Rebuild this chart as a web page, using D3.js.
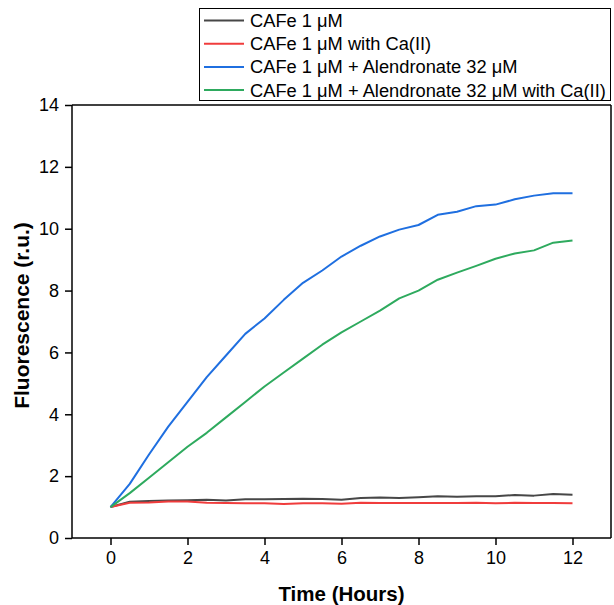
<!DOCTYPE html>
<html>
<head>
<meta charset="utf-8">
<script src="https://cdn.jsdelivr.net/npm/d3@7"></script>
<style>
  html, body { margin: 0; padding: 0; background: #fff; }
  svg { display: block; font-family: "Liberation Sans", Arial, sans-serif; }
</style>
</head>
<body>
<svg id="chart" width="614" height="605"></svg>
<script>
const hours = [0,0.5,1,1.5,2,2.5,3,3.5,4,4.5,5,5.5,6,6.5,7,7.5,8,8.5,9,9.5,10,10.5,11,11.5,12];
const cafe = [1.0,1.17,1.2,1.21,1.22,1.24,1.21,1.25,1.25,1.26,1.27,1.26,1.24,1.29,1.31,1.29,1.32,1.35,1.33,1.35,1.35,1.39,1.37,1.42,1.40];
const cafeCa = [1.0,1.14,1.15,1.18,1.18,1.14,1.13,1.12,1.12,1.10,1.12,1.12,1.11,1.14,1.13,1.13,1.13,1.13,1.13,1.14,1.12,1.14,1.13,1.13,1.12];
const cafeAlen = [1.0,1.75,2.7,3.6,4.4,5.2,5.9,6.6,7.1,7.7,8.25,8.65,9.1,9.45,9.75,9.97,10.12,10.45,10.55,10.73,10.78,10.95,11.07,11.15,11.15];
const cafeAlenCa = [1.0,1.45,1.95,2.45,2.95,3.4,3.9,4.4,4.9,5.35,5.8,6.25,6.65,7.0,7.35,7.75,8.0,8.35,8.58,8.8,9.03,9.2,9.3,9.55,9.62];
const seriesNames = ["CAFe 1 μM","CAFe 1 μM with Ca(II)","CAFe 1 μM + Alendronate 32 μM","CAFe 1 μM + Alendronate 32 μM with Ca(II)"];
const seriesColors = ["#474747","#f03c3c","#1f6fe0","#2eaa5e"];
const xTicks = [0,2,4,6,8,10,12];
const yTicks = [0,2,4,6,8,10,12,14];
const seriesValues = [cafe, cafeCa, cafeAlen, cafeAlenCa];

const svg = d3.select("#chart");
const L = 72, R = 611, T = 105, B = 538;
const x = d3.scaleLinear().domain([-1, 13]).range([L, R]);
const y = d3.scaleLinear().domain([0, 14]).range([B, T]);

// Lines
const line = d3.line().x((d,i) => x(hours[i])).y(d => y(d));
seriesValues.forEach((vals, k) => {
  svg.append("path").datum(vals)
    .attr("d", line)
    .attr("fill", "none")
    .attr("stroke", seriesColors[k])
    .attr("stroke-width", 2)
    .attr("stroke-linejoin", "round");
});

// Frame (top & right)
svg.append("line").attr("x1", L).attr("x2", R).attr("y1", T).attr("y2", T).attr("stroke", "#000").attr("stroke-width", 1.5);
svg.append("line").attr("x1", R).attr("x2", R).attr("y1", T).attr("y2", B).attr("stroke", "#000").attr("stroke-width", 1.5);

// Axes
const xAxis = d3.axisBottom(x).tickValues(xTicks).tickSize(7).tickPadding(6).tickFormat(d3.format("d"));
const gx = svg.append("g").attr("transform", `translate(0,${B})`).call(xAxis);
gx.select(".domain").remove();
gx.append("line").attr("x1", L).attr("x2", R).attr("stroke", "#000").attr("stroke-width", 1.5);
gx.selectAll(".tick line").attr("stroke-width", 1.5);
gx.selectAll("text").attr("font-size", 18).attr("fill", "#000").attr("font-family", "Liberation Sans, Arial, sans-serif");

const yAxis = d3.axisLeft(y).tickValues(yTicks).tickSize(7).tickPadding(6).tickFormat(d3.format("d"));
const gy = svg.append("g").attr("transform", `translate(${L},0)`).call(yAxis);
gy.select(".domain").remove();
gy.append("line").attr("y1", T).attr("y2", B).attr("stroke", "#000").attr("stroke-width", 1.5);
gy.selectAll(".tick line").attr("stroke-width", 1.5);
gy.selectAll("text").attr("font-size", 18).attr("fill", "#000").attr("font-family", "Liberation Sans, Arial, sans-serif");

// Axis titles
svg.append("text").attr("x", (L + R) / 2).attr("y", 601)
  .attr("text-anchor", "middle").attr("font-size", 20.5).attr("font-weight", "bold")
  .text("Time (Hours)");
svg.append("text").attr("transform", `translate(29,${(T + B) / 2 - 6}) rotate(-90)`)
  .attr("text-anchor", "middle").attr("font-size", 21).attr("font-weight", "bold")
  .text("Fluorescence (r.u.)");

// Legend
const lg = svg.append("g");
lg.append("rect").attr("x", 199.5).attr("y", 8.5).attr("width", 411).attr("height", 92)
  .attr("fill", "#fff").attr("stroke", "#000").attr("stroke-width", 1);
seriesNames.forEach((name, k) => {
  const cy = 20.5 + k * 23.2;
  lg.append("line").attr("x1", 204).attr("x2", 244).attr("y1", cy).attr("y2", cy)
    .attr("stroke", seriesColors[k]).attr("stroke-width", 2);
  lg.append("text").attr("x", 250).attr("y", cy).attr("dy", "0.35em")
    .attr("font-size", 18.3).attr("fill", "#000").text(name);
});
</script>
</body>
</html>
